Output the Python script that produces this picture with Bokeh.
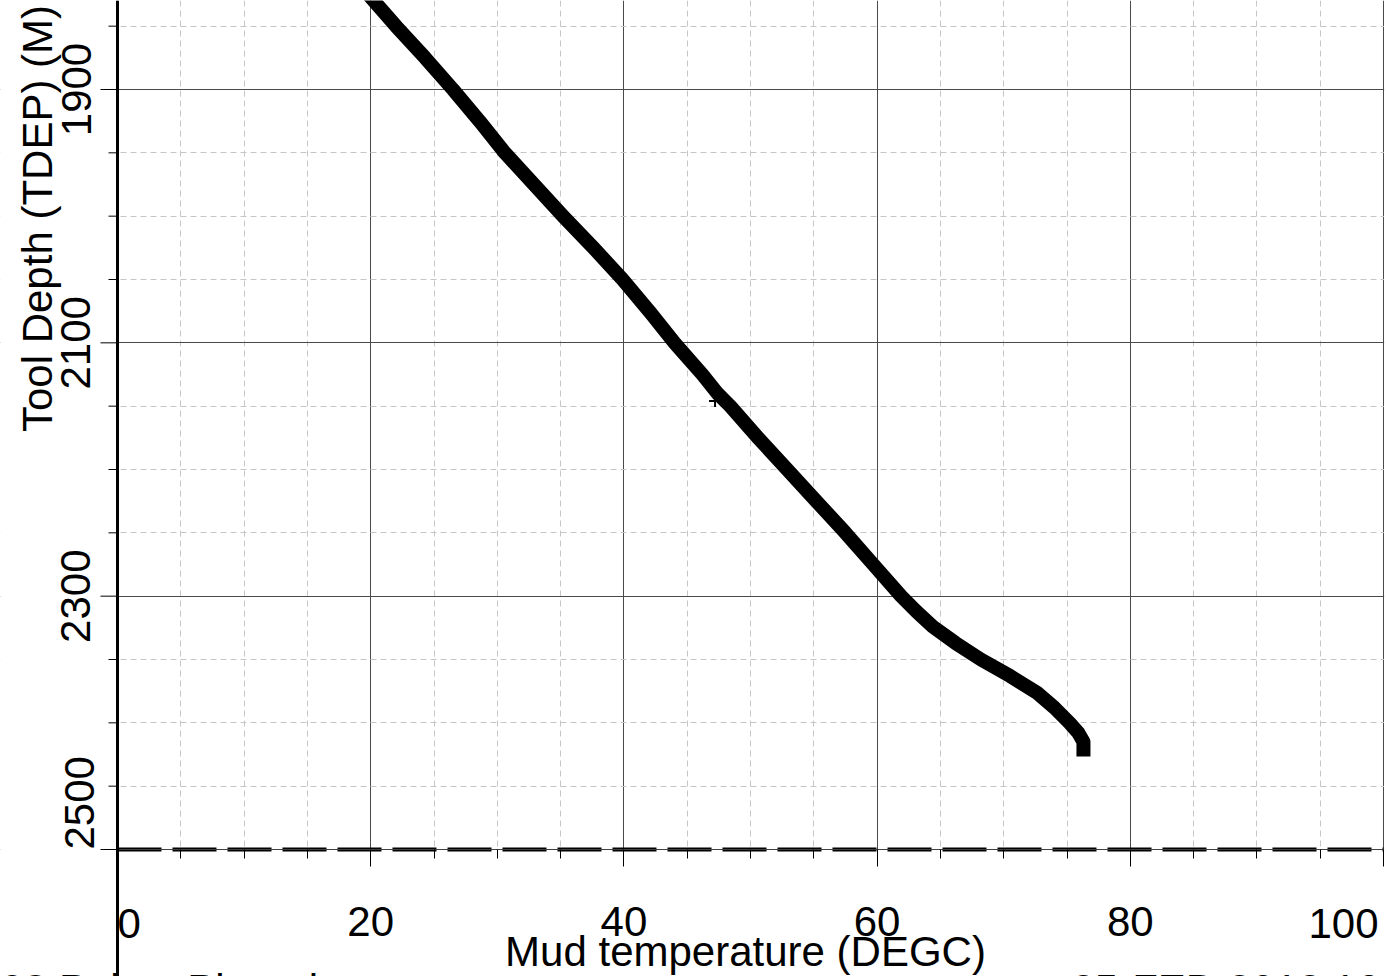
from math import pi
from bokeh.plotting import figure
from bokeh.models import Range1d, Label, FixedTicker
from bokeh.embed import file_html
from bokeh.resources import INLINE

# ---- data ----
depth = [1826, 1850, 1875, 1900, 1925, 1950, 1975, 2000, 2025, 2050, 2075,
         2100, 2125, 2140, 2150, 2175, 2200, 2225, 2250, 2275, 2300, 2312,
         2324, 2337, 2350, 2363, 2376, 2388, 2400, 2408, 2415, 2421]
temp = [19.9, 22.0, 24.3, 26.5, 28.6, 30.6, 32.9, 35.2, 37.6, 39.9, 42.0,
        44.0, 46.2, 47.4, 48.4, 50.6, 52.9, 55.2, 57.5, 59.7, 61.9, 63.1,
        64.4, 66.2, 68.2, 70.5, 72.6, 74.0, 75.2, 75.9, 76.3, 76.3]
marker_temp = [47.2]
marker_depth = [2146]
base_temp = [0, 100]
base_depth = [2500, 2500]

x_major = [0, 20, 40, 60, 80, 100]
x_minor = [v for v in range(0, 101, 5) if v % 20]
y_major = [1900, 2100, 2300, 2500]
y_minor = [v for v in range(1800, 2551, 50) if v not in (1900, 2100, 2300, 2500)]

x_title = "Mud temperature (DEGC)"
y_title = "Tool Depth (TDEP) (M)"
footer_left = "93 Points Plotted"
footer_right = "25-FEB-2012 16:38"

FONT = "Liberation Sans"
FS = "42px"

X0, X1 = 0.0, 100.0
D0, D1 = 1900.0, 2500.0
PX_X = (1383 - 117) / (X1 - X0)
PX_Y = (849 - 89) / (D1 - D0)
W, H = 1387, 976
x_lo = X0 - 117 / PX_X
x_hi = X0 + (W - 117) / PX_X
d_top = D0 - 89 / PX_Y
d_bot = D0 + (H - 89) / PX_Y

p = figure(width=W, height=H, output_backend="svg", toolbar_location=None, title=None,
           x_range=Range1d(x_lo, x_hi), y_range=Range1d(d_bot, d_top),
           min_border_left=0, min_border_right=0, min_border_top=0, min_border_bottom=0)
p.outline_line_color = None
p.background_fill_color = "white"
p.border_fill_color = "white"

for g, maj, mino in ((p.xgrid, x_major, x_minor), (p.ygrid, y_major, y_minor)):
    g.ticker = FixedTicker(ticks=maj, minor_ticks=mino)
    g.grid_line_color = "#4a4a4a"
    g.grid_line_width = 1
    g.minor_grid_line_color = "#c6c6c6"
    g.minor_grid_line_dash = "6 4"
    g.minor_grid_line_width = 1

# white masks (drawn first) keep the grid inside the plotting area
p.quad(left=[x_lo, X1 + 0.05, x_lo], right=[X0, x_hi, x_hi],
       top=[d_top, d_top, D1], bottom=[d_bot, d_bot, d_bot],
       fill_color="white", line_color=None)

# x axis (drawn at depth 2500)
xa = p.xaxis[0]
xa.ticker = FixedTicker(ticks=x_major, minor_ticks=x_minor)
xa.fixed_location = D1
xa.bounds = (X0, X1)
xa.axis_line_color = "#404040"
xa.axis_line_width = 1
xa.major_tick_out = 17
xa.major_tick_in = 0
xa.minor_tick_out = 9
xa.minor_tick_in = 0
xa.major_tick_line_color = "black"
xa.minor_tick_line_color = "black"
xa.major_label_text_font = FONT
xa.major_label_text_font_size = FS
xa.major_label_text_color = "black"
xa.major_label_standoff = 40
xa.major_label_overrides = {0: "", 100: ""}

# y axis (drawn at temperature 0)
ya = p.yaxis[0]
ya.ticker = FixedTicker(ticks=y_major, minor_ticks=y_minor)
ya.fixed_location = X0
ya.axis_line_color = "black"
ya.axis_line_width = 3
ya.major_tick_line_color = None
ya.minor_tick_line_color = None
ya.major_tick_out = 17
ya.major_tick_in = 0
ya.minor_tick_out = 9
ya.minor_tick_in = 0
ya.major_label_orientation = "vertical"
ya.major_label_text_font = FONT
ya.major_label_text_font_size = FS
ya.major_label_text_color = "black"
ya.major_label_standoff = 10
ya.major_label_overrides = {2500: ""}

# y tick marks
y_minor_vis = [v for v in y_minor if d_top <= v <= D1]
p.segment(x0=[X0] * len(y_major), x1=[X0 - 17 / PX_X] * len(y_major),
          y0=y_major, y1=y_major, line_color="black", line_width=1)
p.segment(x0=[X0] * len(y_minor_vis), x1=[X0 - 9 / PX_X] * len(y_minor_vis),
          y0=y_minor_vis, y1=y_minor_vis, line_color="black", line_width=1)

# data
p.line(base_temp, base_depth, line_width=4, line_color="black", line_dash="44 11")
p.line(temp, depth, line_width=14, line_color="black", line_join="round", line_cap="square")
p.scatter(marker_temp, marker_depth, marker="cross", size=12, line_width=2, line_color="black")


def lab(**kw):
    d = dict(text_font=FONT, text_font_size=FS, text_color="black")
    d.update(kw)
    p.add_layout(Label(**d))


# edge tick labels kept inside the axis extent
lab(x=X0, y=D1, text="0", text_align="left", text_baseline="middle", y_offset=-74)
lab(x=X1, y=D1, text="100", text_align="right", text_baseline="middle", y_offset=-74, x_offset=-5)
lab(x=X0, y=D1, text="2500", angle=pi / 2, text_align="left", text_baseline="middle", x_offset=-38)

# axis titles
lab(x=X0 + (745 - 117) / PX_X, y=D1, text=x_title, text_align="center",
    text_baseline="alphabetic", y_offset=-102)
lab(x=X0, y=D0 + (218 - 89) / PX_Y, text=y_title, angle=pi / 2, text_align="center",
    text_baseline="alphabetic", x_offset=-80)

# footer
lab(x=x_lo, y=D1, text=footer_left, text_align="left", text_baseline="top", y_offset=-116)
lab(x=X0 + (1071 - 117) / PX_X, y=D1, text=footer_right, text_align="left",
    text_baseline="top", y_offset=-116)

open("out.html", "w").write(file_html(p, INLINE))
